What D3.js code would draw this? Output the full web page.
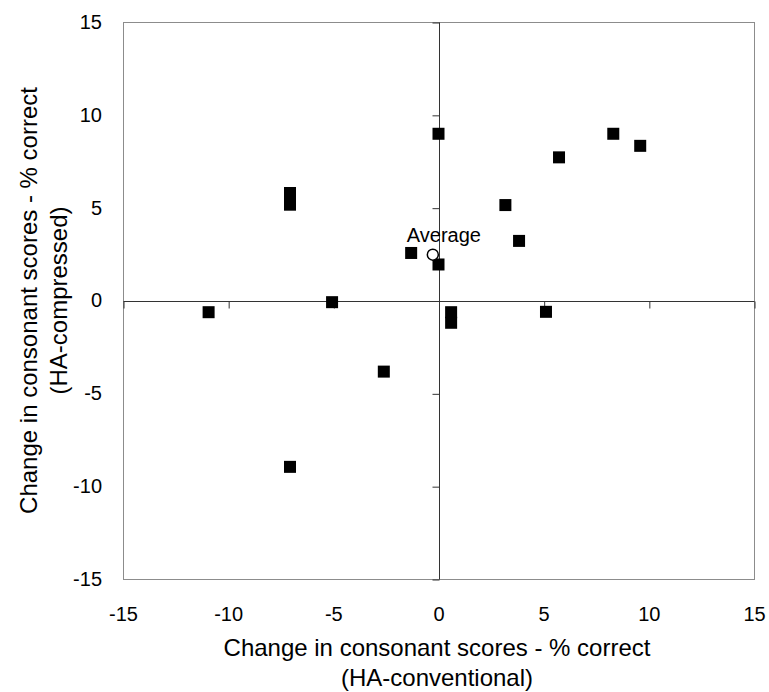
<!DOCTYPE html>
<html>
<head>
<meta charset="utf-8">
<script src="https://cdn.jsdelivr.net/npm/d3@7"></script>
<style>
  html, body { margin: 0; padding: 0; background: #fff; }
  svg text { font-family: Arial, "Liberation Sans", sans-serif; fill: #000; }
</style>
</head>
<body>
<svg id="chart" width="769" height="692"></svg>
<script>
// ---- data ----
const xValues = [-10.93, -7.06, -7.06, -7.06, -5.06, -2.6, -1.3, 0.0, 0.0, 0.6, 0.6, 3.18, 3.83, 5.11, 5.73, 8.31, 9.59];
const yValues = [-0.63, 5.79, 5.16, -8.96, -0.09, -3.83, 2.56, 8.98, 1.94, -0.63, -1.2, 5.14, 3.21, -0.61, 7.71, 8.98, 8.33];
const averagePoint = [-0.27, 2.47];
const averageLabel = "Average";
const tickValues = [-15, -10, -5, 0, 5, 10, 15];
const xTitle = ["Change in consonant scores - % correct", "(HA-conventional)"];
const yTitle = ["Change in consonant scores - % correct", "(HA-compressed)"];

(function () {
// ---- layout ----
const svg = d3.select("#chart");
const pLeft = 123, pRight = 754, pTop = 22, pBottom = 579;
const FONT = "Arial, 'Liberation Sans', sans-serif";

const x = d3.scaleLinear().domain([-15, 15]).range([pLeft, pRight]);
const y = d3.scaleLinear().domain([-15, 15]).range([pBottom, pTop]);

// plot box
svg.append("rect")
  .attr("x", pLeft + 0.5).attr("y", pTop + 0.5)
  .attr("width", pRight - pLeft).attr("height", pBottom - pTop)
  .attr("fill", "none").attr("stroke", "#8c8c8c").attr("stroke-width", 1);

// zero axes with ticks
const xAxisZero = d3.axisBottom(x).tickValues(tickValues).tickSize(7).tickFormat("");
const gx = svg.append("g").attr("transform", `translate(0.5,${Math.round(y(0)) + 0.5})`).call(xAxisZero);
gx.selectAll("path, line").attr("stroke", "#333");
gx.select(".domain").attr("d", `M${pLeft},0H${pRight}`);

const yAxisZero = d3.axisLeft(y).tickValues(tickValues).tickSize(7).tickFormat("");
const gy = svg.append("g").attr("transform", `translate(${Math.round(x(0)) + 0.5},0.5)`).call(yAxisZero);
gy.selectAll("path, line").attr("stroke", "#333");
gy.select(".domain").attr("d", `M0,${pTop}V${pBottom}`);

// tick labels (low position, outside the box), hyphen minus
const fmt = d => String(d);
const labelAxisY = d3.axisLeft(y).tickValues(tickValues).tickSize(0).tickPadding(21).tickFormat(fmt);
const gly = svg.append("g").attr("transform", `translate(${pLeft},0)`).call(labelAxisY);
gly.select(".domain").remove();
gly.selectAll("text").style("font-size", "20px").style("font-family", FONT).attr("fill", "#000");

const labelAxisX = d3.axisBottom(x).tickValues(tickValues).tickSize(0).tickPadding(28).tickFormat(fmt);
const glx = svg.append("g").attr("transform", `translate(0,${pBottom})`).call(labelAxisX);
glx.select(".domain").remove();
glx.selectAll("text").style("font-size", "20px").style("font-family", FONT).attr("fill", "#000");

// axis titles
const xt = svg.append("text").attr("text-anchor", "middle").style("font-size", "24px");
xt.selectAll("tspan").data(xTitle).join("tspan")
  .attr("x", 437)
  .attr("y", (d, i) => 656 + i * 30)
  .text(d => d);

const yt = svg.append("text").attr("text-anchor", "middle").style("font-size", "24px")
  .attr("transform", `translate(0,${(pTop + pBottom) / 2}) rotate(-90)`);
yt.selectAll("tspan").data(yTitle).join("tspan")
  .attr("x", 0)
  .attr("y", (d, i) => 37 + i * 30)
  .text(d => d);

// data squares
const pts = xValues.map((v, i) => [v, yValues[i]]);
const s = 12;
svg.append("g").selectAll("rect").data(pts).join("rect")
  .attr("x", d => x(d[0]) - s / 2)
  .attr("y", d => y(d[1]) - s / 2)
  .attr("width", s).attr("height", s)
  .attr("fill", "#000");

// average
svg.append("circle")
  .attr("cx", x(averagePoint[0])).attr("cy", y(averagePoint[1]))
  .attr("r", 5.5).attr("fill", "#fff").attr("stroke", "#000").attr("stroke-width", 1.5);
svg.append("text")
  .attr("x", x(averagePoint[0]) - 26).attr("y", y(averagePoint[1]) - 12.5)
  .style("font-size", "20px")
  .text(averageLabel);
})();
</script>
</body>
</html>
